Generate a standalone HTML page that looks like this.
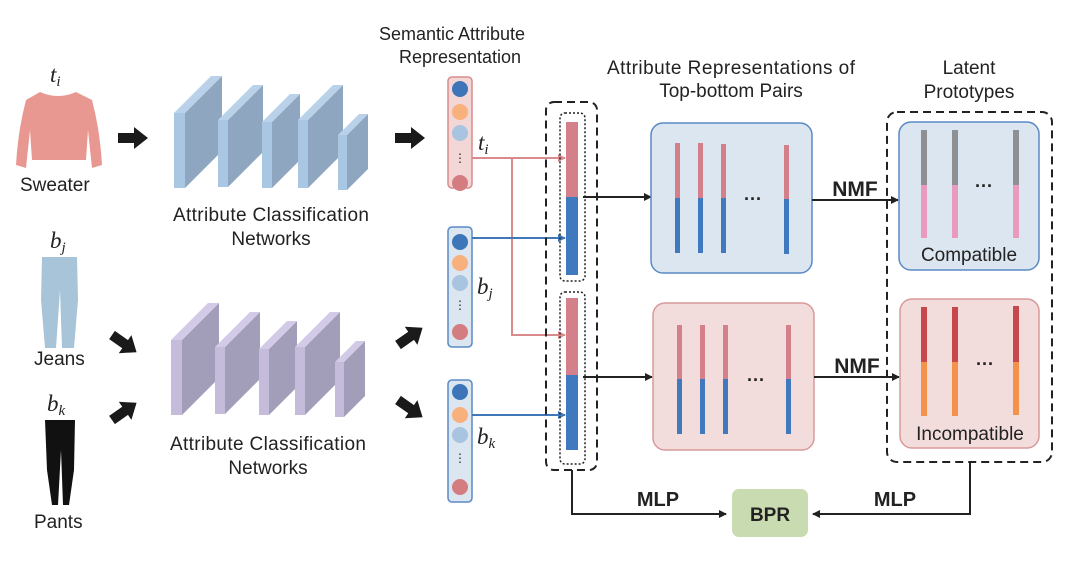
<!DOCTYPE html>
<html><head><meta charset="utf-8"><style>
body{margin:0;background:#fff}
svg{display:block}
text{font-family:"Liberation Sans",sans-serif;fill:#222}
.m{font-family:"Liberation Serif",serif;font-style:italic;font-size:23px}
.b{font-weight:bold}
</style></head><body>
<svg width="1080" height="564" viewBox="0 0 1080 564" xmlns="http://www.w3.org/2000/svg">
<defs>
<marker id="ah" markerWidth="8" markerHeight="8" refX="7" refY="4" orient="auto" markerUnits="userSpaceOnUse"><path d="M0,0 L8,4 L0,8 z" fill="#222"/></marker>
<marker id="ap" markerWidth="8" markerHeight="8" refX="7" refY="4" orient="auto" markerUnits="userSpaceOnUse"><path d="M0,0 L8,4 L0,8 z" fill="#d98b8b"/></marker>
<marker id="ab" markerWidth="8" markerHeight="8" refX="7" refY="4" orient="auto" markerUnits="userSpaceOnUse"><path d="M0,0 L8,4 L0,8 z" fill="#3f77b8"/></marker>
<g id="fat"><path d="M0,-5 L16,-5 L16,-11 L30,0 L16,11 L16,5 L0,5 z" fill="#1a1a1a"/></g>
</defs>

<text class="m" x="50" y="82">t<tspan font-size="15" dy="4">i</tspan></text>
<path d="M40,92 Q58,100 76,92 L92,100 Q100,130 102,165 L92,168 L88,130 L86,160 L32,160 L30,130 L26,168 L16,165 Q18,130 26,100 z" fill="#e99891"/>
<text x="20" y="191" font-size="19">Sweater</text>
<text class="m" x="50" y="248">b<tspan font-size="15" dy="4">j</tspan></text>
<path d="M42,257 L77,257 L78,300 L74,348 L62,348 L60,290 L56,348 L45,348 L41,300 z" fill="#a8c4d9"/>
<text x="34" y="365" font-size="19">Jeans</text>
<text class="m" x="47" y="411">b<tspan font-size="15" dy="4">k</tspan></text>
<path d="M45,420 L75,420 L74,470 L69,505 L63,505 L61,450 L58,505 L52,505 L47,470 z" fill="#111"/>
<text x="34" y="528" font-size="19">Pants</text>

<use href="#fat" x="118" y="138"/>
<use href="#fat" transform="translate(112,335) rotate(35)"/>
<use href="#fat" transform="translate(112,420) rotate(-35)"/>

<g>
<g><polygon points="185,188 222,151 222,76 185,113" fill="#8ea6c0"/><polygon points="174,188 185,188 185,113 174,113" fill="#a9c6e2"/><polygon points="174,113 185,113 222,76 211,76" fill="#b9d2ea"/></g>
<g><polygon points="228,187 263,152 263,85 228,120" fill="#8ea6c0"/><polygon points="218,187 228,187 228,120 218,120" fill="#a9c6e2"/><polygon points="218,120 228,120 263,85 253,85" fill="#b9d2ea"/></g>
<g><polygon points="272,188 300,160 300,94 272,122" fill="#8ea6c0"/><polygon points="262,188 272,188 272,122 262,122" fill="#a9c6e2"/><polygon points="262,122 272,122 300,94 290,94" fill="#b9d2ea"/></g>
<g><polygon points="308,188 343,153 343,85 308,120" fill="#8ea6c0"/><polygon points="298,188 308,188 308,120 298,120" fill="#a9c6e2"/><polygon points="298,120 308,120 343,85 333,85" fill="#b9d2ea"/></g>
<g><polygon points="347,190 368,169 368,114 347,135" fill="#8ea6c0"/><polygon points="338,190 347,190 347,135 338,135" fill="#a9c6e2"/><polygon points="338,135 347,135 368,114 359,114" fill="#b9d2ea"/></g>
</g>
<g transform="translate(-3,227)">
<g><polygon points="185,188 222,151 222,76 185,113" fill="#a29eb9"/><polygon points="174,188 185,188 185,113 174,113" fill="#c5bcdb"/><polygon points="174,113 185,113 222,76 211,76" fill="#d2cae6"/></g>
<g><polygon points="228,187 263,152 263,85 228,120" fill="#a29eb9"/><polygon points="218,187 228,187 228,120 218,120" fill="#c5bcdb"/><polygon points="218,120 228,120 263,85 253,85" fill="#d2cae6"/></g>
<g><polygon points="272,188 300,160 300,94 272,122" fill="#a29eb9"/><polygon points="262,188 272,188 272,122 262,122" fill="#c5bcdb"/><polygon points="262,122 272,122 300,94 290,94" fill="#d2cae6"/></g>
<g><polygon points="308,188 343,153 343,85 308,120" fill="#a29eb9"/><polygon points="298,188 308,188 308,120 298,120" fill="#c5bcdb"/><polygon points="298,120 308,120 343,85 333,85" fill="#d2cae6"/></g>
<g><polygon points="347,190 368,169 368,114 347,135" fill="#a29eb9"/><polygon points="338,190 347,190 347,135 338,135" fill="#c5bcdb"/><polygon points="338,135 347,135 368,114 359,114" fill="#d2cae6"/></g>
</g>
<text x="271" y="221" font-size="19" text-anchor="middle" textLength="196">Attribute Classification</text>
<text x="271" y="245" font-size="19" text-anchor="middle">Networks</text>
<text x="268" y="450" font-size="19" text-anchor="middle" textLength="196">Attribute Classification</text>
<text x="268" y="474" font-size="19" text-anchor="middle">Networks</text>

<use href="#fat" x="395" y="138"/>
<use href="#fat" transform="translate(398,345) rotate(-35)"/>
<use href="#fat" transform="translate(398,400) rotate(35)"/>

<text x="452" y="40" font-size="18" text-anchor="middle">Semantic Attribute</text>
<text x="460" y="63" font-size="18" text-anchor="middle">Representation</text>
<rect x="448" y="77" width="24" height="111" rx="4" fill="#f3d6d6" stroke="#d98b8b" stroke-width="1.5"/>
<circle cx="460" cy="89" r="8" fill="#3e75b8"/><circle cx="460" cy="112" r="8" fill="#f8b07d"/><circle cx="460" cy="133" r="8" fill="#a9c4e0"/><text x="460" y="162" font-size="12" text-anchor="middle">⋮</text><circle cx="460" cy="183" r="8" fill="#d47d80"/>
<rect x="448" y="227" width="24" height="120" rx="4" fill="#dce6f1" stroke="#5a8ac6" stroke-width="1.5"/>
<circle cx="460" cy="242" r="8" fill="#3e75b8"/><circle cx="460" cy="263" r="8" fill="#f8b07d"/><circle cx="460" cy="283" r="8" fill="#a9c4e0"/><text x="460" y="309" font-size="12" text-anchor="middle">⋮</text><circle cx="460" cy="332" r="8" fill="#d47d80"/>
<rect x="448" y="380" width="24" height="122" rx="4" fill="#dce6f1" stroke="#5a8ac6" stroke-width="1.5"/>
<circle cx="460" cy="392" r="8" fill="#3e75b8"/><circle cx="460" cy="415" r="8" fill="#f8b07d"/><circle cx="460" cy="435" r="8" fill="#a9c4e0"/><text x="460" y="462" font-size="12" text-anchor="middle">⋮</text><circle cx="460" cy="487" r="8" fill="#d47d80"/>
<text class="m" x="478" y="150">t<tspan font-size="15" dy="4">i</tspan></text>
<text class="m" x="477" y="294">b<tspan font-size="15" dy="4">j</tspan></text>
<text class="m" x="477" y="444">b<tspan font-size="15" dy="4">k</tspan></text>

<polyline points="472,158 565,158" fill="none" stroke="#d98b8b" stroke-width="2" marker-end="url(#ap)"/>
<polyline points="512,158 512,335 565,335" fill="none" stroke="#d98b8b" stroke-width="2" marker-end="url(#ap)"/>
<line x1="472" y1="238" x2="565" y2="238" stroke="#3f77b8" stroke-width="2" marker-end="url(#ab)"/>
<line x1="472" y1="415" x2="565" y2="415" stroke="#3f77b8" stroke-width="2" marker-end="url(#ab)"/>

<rect x="546" y="102" width="51" height="368" rx="8" fill="none" stroke="#222" stroke-width="2" stroke-dasharray="8,5"/>
<rect x="560" y="113" width="25" height="168" rx="5" fill="none" stroke="#222" stroke-width="1.5" stroke-dasharray="2,2"/>
<rect x="560" y="292" width="25" height="172" rx="5" fill="none" stroke="#222" stroke-width="1.5" stroke-dasharray="2,2"/>
<rect x="566" y="122" width="12" height="75" fill="#d4808a"/><rect x="566" y="197" width="12" height="78" fill="#4079bd"/>
<rect x="566" y="298" width="12" height="77" fill="#d4808a"/><rect x="566" y="375" width="12" height="75" fill="#4079bd"/>

<line x1="583" y1="197" x2="651" y2="197" stroke="#222" stroke-width="2" marker-end="url(#ah)"/>
<line x1="583" y1="377" x2="652" y2="377" stroke="#222" stroke-width="2" marker-end="url(#ah)"/>

<text x="731" y="74" font-size="19" text-anchor="middle" textLength="248">Attribute Representations of</text>
<text x="731" y="97" font-size="19" text-anchor="middle">Top-bottom Pairs</text>
<rect x="651" y="123" width="161" height="150" rx="12" fill="#dce6f1" stroke="#5a8ac6" stroke-width="1.5"/>
<g fill="#d4808a"><rect x="675" y="143" width="5" height="55"/><rect x="698" y="143" width="5" height="55"/><rect x="721" y="144" width="5" height="54"/><rect x="784" y="145" width="5" height="54"/></g>
<g fill="#4079bd"><rect x="675" y="198" width="5" height="55"/><rect x="698" y="198" width="5" height="55"/><rect x="721" y="198" width="5" height="55"/><rect x="784" y="199" width="5" height="55"/></g>
<text x="753" y="205" font-size="18" class="b" text-anchor="middle">···</text>
<rect x="653" y="303" width="161" height="147" rx="12" fill="#f2dcdc" stroke="#d99a9a" stroke-width="1.5"/>
<g fill="#d4808a"><rect x="677" y="325" width="5" height="54"/><rect x="700" y="325" width="5" height="54"/><rect x="723" y="325" width="5" height="54"/><rect x="786" y="325" width="5" height="54"/></g>
<g fill="#4079bd"><rect x="677" y="379" width="5" height="55"/><rect x="700" y="379" width="5" height="55"/><rect x="723" y="379" width="5" height="55"/><rect x="786" y="379" width="5" height="55"/></g>
<text x="756" y="386" font-size="18" class="b" text-anchor="middle">···</text>

<line x1="812" y1="200" x2="898" y2="200" stroke="#222" stroke-width="2" marker-end="url(#ah)"/>
<text x="855" y="196" font-size="21" class="b" text-anchor="middle">NMF</text>
<line x1="814" y1="377" x2="899" y2="377" stroke="#222" stroke-width="2" marker-end="url(#ah)"/>
<text x="857" y="373" font-size="21" class="b" text-anchor="middle">NMF</text>

<text x="969" y="74" font-size="19" text-anchor="middle">Latent</text>
<text x="969" y="98" font-size="19" text-anchor="middle">Prototypes</text>
<rect x="887" y="112" width="165" height="350" rx="10" fill="none" stroke="#222" stroke-width="2" stroke-dasharray="8,5"/>
<rect x="899" y="122" width="140" height="148" rx="12" fill="#dce6f1" stroke="#5a8ac6" stroke-width="1.5"/>
<g fill="#8e9093"><rect x="921" y="130" width="6" height="55"/><rect x="952" y="130" width="6" height="55"/><rect x="1013" y="130" width="6" height="55"/></g>
<g fill="#e89bbd"><rect x="921" y="185" width="6" height="53"/><rect x="952" y="185" width="6" height="53"/><rect x="1013" y="185" width="6" height="53"/></g>
<text x="984" y="192" font-size="18" class="b" text-anchor="middle">···</text>
<text x="969" y="261" font-size="19" text-anchor="middle">Compatible</text>
<rect x="900" y="299" width="139" height="149" rx="12" fill="#f2dcdc" stroke="#d99a9a" stroke-width="1.5"/>
<g fill="#c8474c"><rect x="921" y="307" width="6" height="55"/><rect x="952" y="307" width="6" height="55"/><rect x="1013" y="306" width="6" height="56"/></g>
<g fill="#f4914a"><rect x="921" y="362" width="6" height="54"/><rect x="952" y="362" width="6" height="54"/><rect x="1013" y="362" width="6" height="53"/></g>
<text x="985" y="370" font-size="18" class="b" text-anchor="middle">···</text>
<text x="970" y="440" font-size="19" text-anchor="middle">Incompatible</text>

<polyline points="572,470 572,514 726,514" fill="none" stroke="#222" stroke-width="2" marker-end="url(#ah)"/>
<text x="658" y="506" font-size="20" class="b" text-anchor="middle">MLP</text>
<polyline points="970,462 970,514 813,514" fill="none" stroke="#222" stroke-width="2" marker-end="url(#ah)"/>
<text x="895" y="506" font-size="20" class="b" text-anchor="middle">MLP</text>
<rect x="732" y="489" width="76" height="48" rx="7" fill="#c9dbb0"/>
<text x="770" y="521" font-size="19" class="b" text-anchor="middle">BPR</text>
</svg>
</body></html>
